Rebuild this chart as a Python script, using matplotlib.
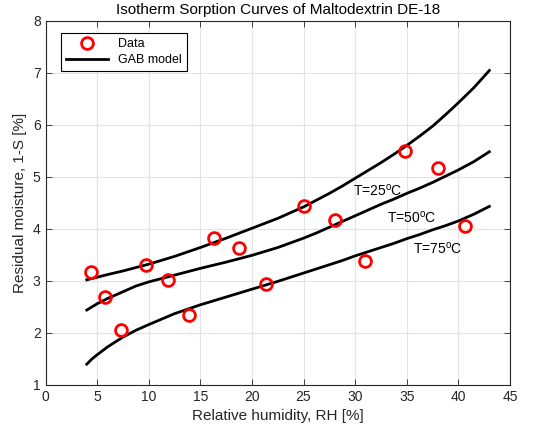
import matplotlib
matplotlib.use("Agg")
import matplotlib.pyplot as plt

plt.rcParams['font.family'] = ['Liberation Sans', 'DejaVu Sans']
plt.rcParams['mathtext.default'] = 'regular'

# Measured sorption data
rh_data = [4.45, 5.76, 7.32, 9.74, 11.84, 13.94, 16.32, 18.74, 21.38,
           25.03, 28.0, 30.95, 34.85, 38.0, 40.62]
moist_data = [3.17, 2.69, 2.06, 3.31, 3.02, 2.35, 3.82, 3.64, 2.94,
              4.44, 4.16, 3.39, 5.50, 5.16, 4.05]

# GAB model curves
rh_model = [4, 4.5, 5, 6, 7.5, 8.75, 10, 12.5, 15, 17.5, 20, 22.5, 25,
            26.25, 27.5, 28.75, 30, 31.25, 32.5, 33.75, 35, 36.25, 37.5,
            38.75, 40, 41.5, 43]
gab_25 = [3.02, 3.045, 3.07, 3.12, 3.19, 3.255, 3.32, 3.47, 3.64, 3.82,
          4.01, 4.20, 4.42, 4.55, 4.68, 4.82, 4.97, 5.12, 5.27, 5.43,
          5.60, 5.78, 5.97, 6.19, 6.42, 6.71, 7.04]
gab_50 = [2.44, 2.50, 2.56, 2.66, 2.79, 2.90, 2.98, 3.11, 3.24, 3.36,
          3.49, 3.64, 3.82, 3.92, 4.03, 4.14, 4.25, 4.36, 4.47, 4.57,
          4.68, 4.78, 4.89, 5.01, 5.13, 5.29, 5.48]
gab_75 = [1.40, 1.50, 1.58, 1.73, 1.92, 2.05, 2.16, 2.37, 2.54, 2.69,
          2.84, 2.99, 3.15, 3.23, 3.31, 3.39, 3.48, 3.56, 3.64, 3.72,
          3.81, 3.89, 3.98, 4.06, 4.15, 4.28, 4.43]

temp_labels = ['T=25$^o$C', 'T=50$^o$C', 'T=75$^o$C']
label_pos = [(29.8, 4.63), (33.05, 4.12), (35.6, 3.52)]

axis_col = '#262626'

fig = plt.figure(figsize=(5.35, 4.38), dpi=100)
ax = fig.add_axes([45.5/535, 53/438, 464.5/535, 364.5/438])

ax.plot(rh_data, moist_data, 'o', color='r', markerfacecolor='none',
        markersize=8.5, markeredgewidth=2, label='Data', zorder=3)
for i, g in enumerate([gab_25, gab_50, gab_75]):
    ax.plot(rh_model, g, '-', color='k', linewidth=2, solid_joinstyle='round',
            label='GAB model' if i == 0 else None)

for t, (x, y) in zip(temp_labels, label_pos):
    ax.text(x, y, t, fontsize=10, color='k', ha='left', va='baseline')

ax.set_xlim(0, 45)
ax.set_ylim(1, 8)
ax.set_xticks(range(0, 46, 5))
ax.set_yticks(range(1, 9))
ax.grid(True, color='#e3e3e3', linewidth=0.8)
ax.set_axisbelow(True)

ax.tick_params(direction='in', length=4, width=0.6, colors=axis_col,
               labelsize=10, top=True, right=True, labeltop=False, labelright=False)
for sp in ax.spines.values():
    sp.set_color(axis_col)
    sp.set_linewidth(0.8)

ax.set_title('Isotherm Sorption Curves of Maltodextrin DE-18', fontsize=11,
             color='k', pad=5)
ax.set_xlabel('Relative humidity, RH [%]', fontsize=11, color=axis_col)
ax.set_ylabel('Residual moisture, 1-S [%]', fontsize=11, color=axis_col)

leg = ax.legend(loc='upper left', bbox_to_anchor=(0.033, 0.965), borderaxespad=0,
                fontsize=9, fancybox=False, framealpha=1, edgecolor='k',
                handlelength=3.4, borderpad=0.4, labelspacing=0.3)
leg.get_frame().set_linewidth(0.8)

fig.savefig('out.png', dpi=100)
